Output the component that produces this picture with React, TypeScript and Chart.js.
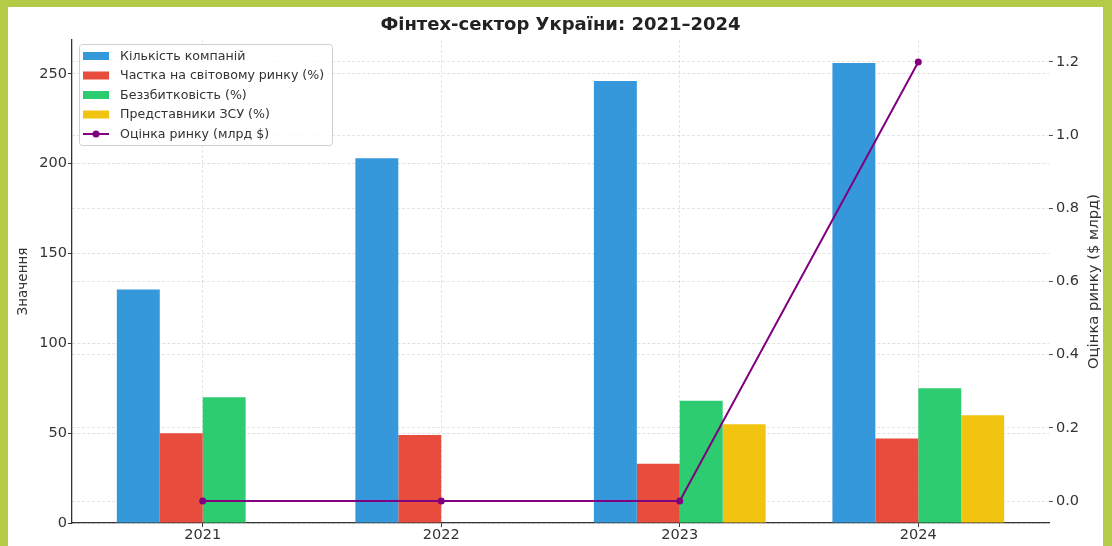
import React, { useEffect, useRef } from "react";
import { Chart, registerables } from "chart.js";

Chart.register(...registerables);

const years = ["2021", "2022", "2023", "2024"];
const companies = [130, 203, 246, 256];
const worldShare = [50, 49, 33, 47];
const breakeven: (number | null)[] = [70, null, 68, 75];
const military: (number | null)[] = [null, null, 55, 60];
const marketValue = [0, 0, 0, 1.2];
const leftTicks = [0, 50, 100, 150, 200, 250];
const rightTicks = [0, 0.2, 0.4, 0.6, 0.8, 1.0, 1.2];

const seriesLabels = [
  "Кількість компаній",
  "Частка на світовому ринку (%)",
  "Беззбитковість (%)",
  "Представники ЗСУ (%)",
  "Оцінка ринку (млрд $)",
];
const seriesColors = ["#3498db", "#e74c3c", "#2ecc71", "#f1c40f", "#800080"];

const chartTitle = "Фінтех-сектор України: 2021–2024";
const leftTitle = "Значення";
const rightTitle = "Оцінка ринку ($ млрд)";

const FONT = '"DejaVu Sans", sans-serif';

const toPoints = (arr: (number | null)[]) => arr.map((v, i) => ({ x: i, y: v }));

const overlayPlugin = {
  id: "overlay",
  afterDraw(chart: any) {
    const ctx = chart.ctx as CanvasRenderingContext2D;
    const area = chart.chartArea;
    ctx.save();
    // title
    ctx.fillStyle = "#222";
    ctx.font = `bold 18px ${FONT}`;
    ctx.textAlign = "center";
    ctx.textBaseline = "middle";
    ctx.fillText(chartTitle, (area.left + area.right) / 2, 25);

    // axis titles
    const midY = (area.top + area.bottom) / 2;
    ctx.fillStyle = "#333";
    ctx.font = `13.5px ${FONT}`;
    ctx.save();
    ctx.translate(23, midY);
    ctx.rotate(-Math.PI / 2);
    ctx.fillText(leftTitle, 0, 0);
    ctx.restore();

    ctx.font = `14.8px ${FONT}`;
    ctx.save();
    ctx.translate(1094, midY);
    ctx.rotate(-Math.PI / 2);
    ctx.fillText(rightTitle, 0, 0);
    ctx.restore();

    // legend
    const lx = 79, ly = 44, lw = 253, lh = 101;
    ctx.fillStyle = "rgba(255,255,255,0.8)";
    ctx.strokeStyle = "#d0d0d0";
    ctx.lineWidth = 1;
    ctx.beginPath();
    (ctx as any).roundRect(lx + 0.5, ly + 0.5, lw, lh, 3);
    ctx.fill();
    ctx.stroke();
    ctx.font = `12.6px ${FONT}`;
    ctx.textAlign = "left";
    ctx.textBaseline = "middle";
    const rowY0 = 56;
    const rowStep = 19.5;
    seriesLabels.forEach((label, i) => {
      const y = rowY0 + i * rowStep;
      if (i < 4) {
        ctx.fillStyle = seriesColors[i];
        ctx.fillRect(83, y - 4, 26, 8);
      } else {
        ctx.strokeStyle = seriesColors[i];
        ctx.lineWidth = 2;
        ctx.beginPath();
        ctx.moveTo(83, y);
        ctx.lineTo(109, y);
        ctx.stroke();
        ctx.fillStyle = seriesColors[i];
        ctx.beginPath();
        ctx.arc(96, y, 3.5, 0, Math.PI * 2);
        ctx.fill();
      }
      ctx.fillStyle = "#333";
      ctx.fillText(label, 120, y + 0.5);
    });
    ctx.restore();
  },
};

export default function App() {
  const ref = useRef<HTMLCanvasElement | null>(null);

  useEffect(() => {
    document.body.style.margin = "0";
    const canvas = ref.current!;
    const barCommon = {
      type: "bar" as const,
      xAxisID: "x",
      yAxisID: "y",
      categoryPercentage: 0.72,
      barPercentage: 1.0,
      borderWidth: 0,
    };
    const chart = new Chart(canvas, {
      type: "bar",
      data: {
        datasets: [
          { ...barCommon, label: seriesLabels[0], data: toPoints(companies), backgroundColor: seriesColors[0] },
          { ...barCommon, label: seriesLabels[1], data: toPoints(worldShare), backgroundColor: seriesColors[1] },
          { ...barCommon, label: seriesLabels[2], data: toPoints(breakeven), backgroundColor: seriesColors[2] },
          { ...barCommon, label: seriesLabels[3], data: toPoints(military), backgroundColor: seriesColors[3] },
          {
            type: "line",
            label: seriesLabels[4],
            data: toPoints(marketValue),
            xAxisID: "x",
            yAxisID: "y1",
            borderColor: seriesColors[4],
            backgroundColor: seriesColors[4],
            borderWidth: 2,
            pointRadius: 3.5,
            pointBackgroundColor: seriesColors[4],
            pointBorderWidth: 0,
            tension: 0,
            order: -1,
          } as any,
        ],
      },
      options: {
        responsive: false,
        animation: false,
        devicePixelRatio: 1,
        layout: { padding: { top: 40, left: 0, right: 0, bottom: 0 } },
        plugins: {
          legend: { display: false },
          title: { display: false },
          tooltip: { enabled: false },
        },
        scales: {
          x: {
            type: "linear",
            offset: false,
            min: -0.548,
            max: 3.548,
            afterBuildTicks: (s: any) => {
              s.ticks = years.map((_, i) => ({ value: i }));
            },
            afterFit: (s: any) => {
              s.height = 23;
            },
            ticks: {
              callback: (v: any) => years[v as number] ?? "",
              font: { family: FONT, size: 14.5 },
              color: "#333",
              padding: 0,
              maxRotation: 0,
              autoSkip: false,
            },
            grid: {
              offset: false,
              color: "rgba(0,0,0,0.1)",
              lineWidth: 1,
              tickLength: 4,
              tickColor: "#333",
              tickBorderDash: [],
            } as any,
            border: { color: "#333", width: 1.3, dash: [3, 2] } as any,
          },
          y: {
            type: "linear",
            position: "left",
            min: 0,
            max: 268.8,
            afterBuildTicks: (s: any) => {
              s.ticks = leftTicks.map((v) => ({ value: v }));
            },
            afterFit: (s: any) => {
              s.width = 72;
            },
            ticks: {
              font: { family: FONT, size: 14.5 },
              color: "#333",
              padding: 1,
            },
            grid: {
              color: "rgba(0,0,0,0.12)",
              lineWidth: 1,
              tickLength: 4,
              tickColor: "#333",
              tickBorderDash: [],
            } as any,
            border: { color: "#333", width: 1.3, dash: [3, 2] } as any,
          },
          y1: {
            type: "linear",
            position: "right",
            min: -0.06,
            max: 1.26,
            afterBuildTicks: (s: any) => {
              s.ticks = rightTicks.map((v) => ({ value: v }));
            },
            afterFit: (s: any) => {
              s.width = 63;
            },
            ticks: {
              font: { family: FONT, size: 14.5 },
              color: "#333",
              padding: 3,
              callback: (v: any) => Number(v).toFixed(1),
            },
            grid: {
              color: "rgba(0,0,0,0.1)",
              lineWidth: 1,
              tickLength: 4,
              tickColor: "#555",
              tickBorderDash: [],
            } as any,
            border: { display: false, dash: [3, 2] } as any,
          },
        },
      },
      plugins: [overlayPlugin],
    });
    return () => chart.destroy();
  }, []);

  return (
    <div style={{ position: "fixed", left: 0, top: 0, width: 1112, height: 546, background: "#b3cb46", overflow: "hidden" }}>
      <div style={{ position: "absolute", left: 8, top: 7, width: 1095, height: 539, background: "#ffffff" }} />
      <canvas ref={ref} width={1112} height={546} style={{ position: "absolute", left: 0, top: 0 }} />
    </div>
  );
}
